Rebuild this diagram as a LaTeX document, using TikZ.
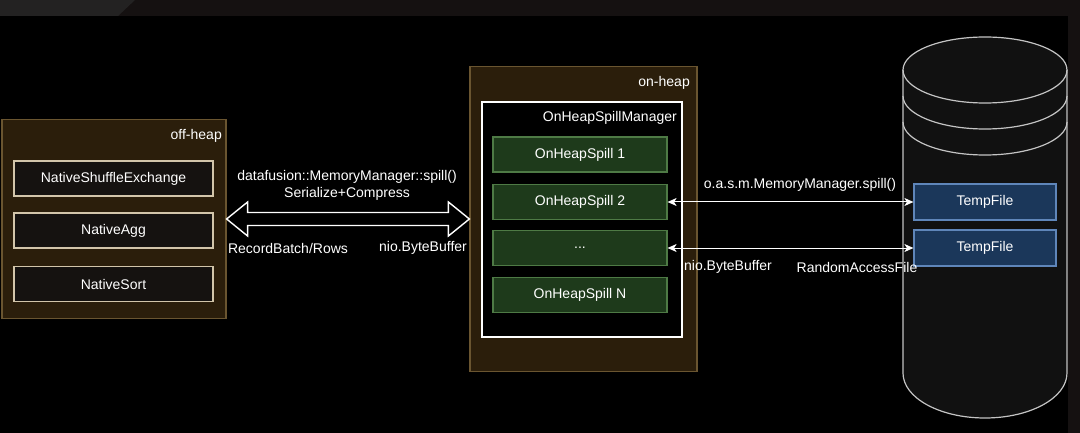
\documentclass[tikz,border=0pt]{standalone}
\usepackage{fontspec}
\setmainfont{Liberation Sans}
\usetikzlibrary{arrows.meta,calc}

\definecolor{bgdark}{HTML}{151111}
\definecolor{bgpatch}{HTML}{232222}
\definecolor{heapfill}{HTML}{2B1E0B}
\definecolor{heapline}{HTML}{6A5530}
\definecolor{nativefill}{HTML}{151210}
\definecolor{nativeline}{HTML}{D2C5AA}
\definecolor{spillfill}{HTML}{1E3A1B}
\definecolor{spillline}{HTML}{4E7A45}
\definecolor{tempfill}{HTML}{1B375A}
\definecolor{templine}{HTML}{5F86BA}
\definecolor{drumfill}{HTML}{111111}
\definecolor{drumline}{HTML}{C4C4C4}

\tikzset{
  txt/.style={text=white, font=\fontsize{14}{17}\selectfont, inner sep=0pt},
  heap/.style={draw=heapline, fill=heapfill, line width=1.2pt},
  nativebox/.style={txt, draw=nativeline, fill=nativefill, line width=1.2pt,
    minimum width=199pt, minimum height=35pt},
  spillbox/.style={txt, draw=spillline, fill=spillfill, line width=1.2pt,
    minimum width=174pt, minimum height=35pt},
  tempbox/.style={txt, draw=templine, fill=tempfill, line width=1.2pt,
    minimum width=142pt, minimum height=36pt},
  link/.style={draw=white, line width=1pt,
    arrows={Stealth[length=9pt,width=8pt,inset=2.5pt]-Stealth[length=9pt,width=8pt,inset=2.5pt]}},
  hollowarrow/.style={draw=white, line width=1.4pt, line join=miter},
}

\begin{document}
\begin{tikzpicture}[x=1pt,y=-1pt]
  % Background
  \fill[bgdark] (0,0) rectangle (1080,433);
  \fill[bgpatch] (0,0) -- (135,0) -- (118,16) -- (0,16) -- cycle;
  \fill[black] (0,16) rectangle (1068,433);
  \useasboundingbox (0,0) rectangle (1080,433);

  % off-heap
  \node[heap, minimum width=224pt, minimum height=199pt] (offheap) at (114,219) {};
  \node[txt, anchor=east] (offlbl) at (222,136) {off-heap};
  \node[nativebox] (shuffle) at (113.5,178.5) {NativeShuffleExchange};
  \node[nativebox] (agg) at (113.5,230.5) {NativeAgg};
  \node[nativebox] (sort) at (113.5,284) {NativeSort};

  % on-heap
  \node[heap, minimum width=227pt, minimum height=305pt] (onheap) at (583.5,219) {};
  \node[txt, anchor=east] (onlbl) at (690,83) {on-heap};
  \node[draw=white, fill=black, line width=1.2pt, minimum width=200pt,
    minimum height=235pt] (manager) at (582,219.5) {};
  \node[txt, anchor=east] (mgrlbl) at (677,118) {OnHeapSpillManager};
  \node[spillbox] (spill1) at (580,154.5) {OnHeapSpill 1};
  \node[spillbox] (spill2) at (580,202) {OnHeapSpill 2};
  \node[spillbox] (dots) at (580,248) {...};
  \node[spillbox] (spilln) at (580,295) {OnHeapSpill N};

  % Disk
  \fill[drumfill] (903,70) -- (903,373)
    arc[start angle=180, end angle=360, x radius=82pt, y radius=45pt]
    -- (1067,70)
    arc[start angle=0, end angle=180, x radius=82pt, y radius=33pt] -- cycle;
  \draw[drumline, line width=1.2pt] (903,70) -- (903,373)
    arc[start angle=180, end angle=360, x radius=82pt, y radius=45pt]
    -- (1067,70);
  \draw[drumline, line width=1.2pt] (985,70) ellipse [x radius=82pt, y radius=33pt];
  \draw[drumline, line width=1.2pt] (903,96)
    arc[start angle=180, end angle=360, x radius=82pt, y radius=33pt];
  \draw[drumline, line width=1.2pt] (903,122)
    arc[start angle=180, end angle=360, x radius=82pt, y radius=33pt];
  \node[tempbox] (temp1) at (985,202) {TempFile};
  \node[tempbox] (temp2) at (985,248) {TempFile};

  % Big exchange arrow
  \draw[hollowarrow] (offheap.east) -- ++(21,-17) -- ++(0,10.5)
    -- ($(onheap.west)+(-21,-6.5)$) -- ++(0,-10.5) -- (onheap.west)
    -- ++(-21,17) -- ++(0,-10.5) -- ($(offheap.east)+(21,6.5)$)
    -- ++(0,10.5) -- cycle;
  \node[txt, align=center] (spilltxt) at (347,185)
    {datafusion::MemoryManager::spill()\\Serialize+Compress};
  \node[txt] (rowslbl) at (288,248) {RecordBatch/Rows};
  \node[txt] (buflbl) at (423,248) {nio.ByteBuffer};

  % File arrows
  \draw[link] (spill2.east) -- (temp1.west);
  \draw[link] (dots.east) -- (temp2.west);
  \node[txt] (jvmlbl) at (800,185) {o.a.s.m.MemoryManager.spill()};
  \node[txt] (nioLbl) at (728,267) {nio.ByteBuffer};
  \node[txt] (rafLbl) at (857,267) {RandomAccessFile};
\end{tikzpicture}
\end{document}
